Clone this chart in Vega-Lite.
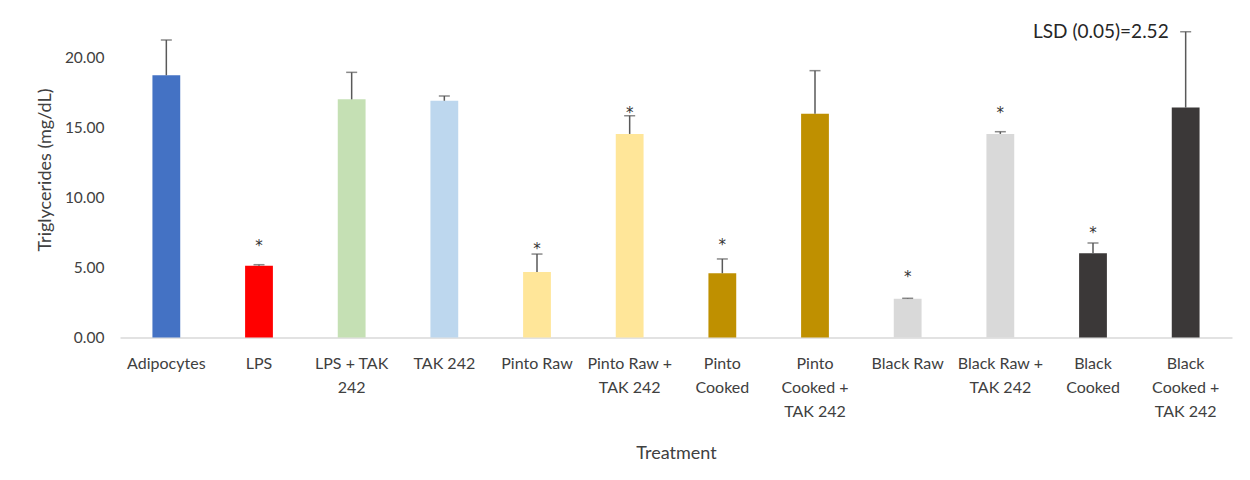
{
  "$schema": "https://vega.github.io/schema/vega-lite/v6.json",
  "width": 1112,
  "height": 336,
  "autosize": {"type": "none"},
  "padding": {"left": 120, "top": 1.5, "right": 18, "bottom": 142.5},
  "background": "white",
  "config": {
    "view": {"stroke": null},
    "font": "Lato",
    "axis": {"labelColor": "#404040", "titleColor": "#404040", "labelFont": "Lato", "titleFont": "Lato", "titleFontWeight": "normal"}
  },
  "data": {
    "values": [
      {"treatment": "Adipocytes", "mean": 18.73, "upper": 21.25, "star": null, "note": null},
      {"treatment": "LPS", "mean": 5.13, "upper": 5.2, "star": 6.82, "note": null},
      {"treatment": "LPS + TAK 242", "mean": 17.01, "upper": 18.94, "star": null, "note": null},
      {"treatment": "TAK 242", "mean": 16.91, "upper": 17.25, "star": null, "note": null},
      {"treatment": "Pinto Raw", "mean": 4.68, "upper": 5.96, "star": 6.6, "note": null},
      {"treatment": "Pinto Raw + TAK 242", "mean": 14.54, "upper": 15.84, "star": 16.3, "note": null},
      {"treatment": "Pinto Cooked", "mean": 4.59, "upper": 5.61, "star": 6.91, "note": null},
      {"treatment": "Pinto Cooked + TAK 242", "mean": 15.99, "upper": 19.06, "star": null, "note": null},
      {"treatment": "Black Raw", "mean": 2.77, "upper": 2.8, "star": 4.63, "note": null},
      {"treatment": "Black Raw + TAK 242", "mean": 14.54, "upper": 14.7, "star": 16.32, "note": null},
      {"treatment": "Black Cooked", "mean": 6.01, "upper": 6.75, "star": 7.75, "note": null},
      {"treatment": "Black Cooked + TAK 242", "mean": 16.42, "upper": 21.84, "star": null, "note": "LSD (0.05)=2.52"}
    ]
  },
  "encoding": {
    "x": {
      "field": "treatment",
      "type": "nominal",
      "sort": null,
      "scale": {"paddingInner": 0.7, "paddingOuter": 0.35},
      "axis": {
        "title": "Treatment",
        "titleFontSize": 18,
        "titleY": 116,
        "titleBaseline": "middle",
        "labelAngle": 0,
        "labelFontSize": 16,
        "labelPadding": 18,
        "labelLineHeight": 24,
        "labelBaseline": "top",
        "ticks": false,
        "domainColor": "#d9d9d9",
        "domainWidth": 1.5,
        "labelLimit": 200,
        "labelExpr": "({'LPS + TAK 242': ['LPS + TAK','242'], 'Pinto Raw + TAK 242': ['Pinto Raw +','TAK 242'], 'Pinto Cooked': ['Pinto','Cooked'], 'Pinto Cooked + TAK 242': ['Pinto','Cooked +','TAK 242'], 'Black Raw + TAK 242': ['Black Raw +','TAK 242'], 'Black Cooked': ['Black','Cooked'], 'Black Cooked + TAK 242': ['Black','Cooked +','TAK 242']})[datum.value] || datum.value"
      }
    }
  },
  "layer": [
    {
      "mark": {"type": "bar"},
      "encoding": {
        "y": {
          "field": "mean",
          "type": "quantitative",
          "scale": {"domain": [0, 24], "nice": false},
          "axis": {
            "title": "Triglycerides (mg/dL)",
            "titleFontSize": 18,
            "titleX": -75,
            "titleY": 168,
            "titleAngle": -90,
            "titleBaseline": "middle",
            "titleAlign": "center",
            "values": [0, 5, 10, 15, 20],
            "format": ".2f",
            "labelFontSize": 15.5,
            "labelPadding": 16,
            "ticks": false,
            "domain": false,
            "grid": false
          }
        },
        "color": {
          "field": "treatment",
          "type": "nominal",
          "legend": null,
          "scale": {
            "domain": ["Adipocytes", "LPS", "LPS + TAK 242", "TAK 242", "Pinto Raw", "Pinto Raw + TAK 242", "Pinto Cooked", "Pinto Cooked + TAK 242", "Black Raw", "Black Raw + TAK 242", "Black Cooked", "Black Cooked + TAK 242"],
            "range": ["#4472C4", "#FF0000", "#C5E0B4", "#BDD7EE", "#FFE699", "#FFE699", "#BF9000", "#BF9000", "#D9D9D9", "#D9D9D9", "#3B3838", "#3B3838"]
          }
        }
      }
    },
    {
      "mark": {"type": "rule", "color": "#595959", "strokeWidth": 1.5},
      "encoding": {
        "y": {"field": "mean", "type": "quantitative"},
        "y2": {"field": "upper"}
      }
    },
    {
      "mark": {"type": "tick", "color": "#595959", "thickness": 1.5, "size": 11, "orient": "horizontal"},
      "encoding": {
        "y": {"field": "upper", "type": "quantitative"}
      }
    },
    {
      "transform": [{"filter": "datum.star != null"}],
      "mark": {"type": "text", "text": "*", "font": "DejaVu Sans", "fontSize": 15, "color": "#333333", "baseline": "alphabetic", "dy": 9},
      "encoding": {
        "y": {"field": "star", "type": "quantitative"}
      }
    },
    {
      "transform": [{"filter": "datum.note != null"}],
      "mark": {"type": "text", "fontSize": 19, "color": "#262626", "align": "right", "baseline": "middle", "dx": -17},
      "encoding": {
        "y": {"field": "upper", "type": "quantitative"},
        "text": {"field": "note"}
      }
    }
  ]
}
